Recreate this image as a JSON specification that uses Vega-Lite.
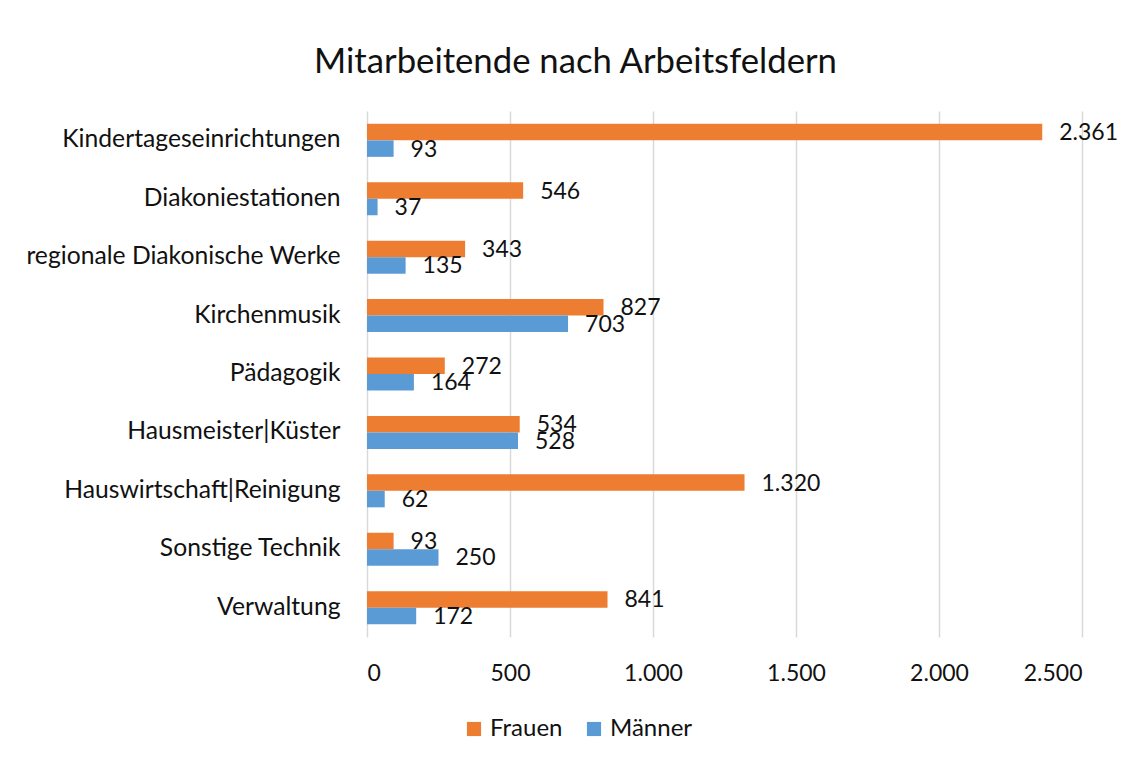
{
  "$schema": "https://vega.github.io/schema/vega-lite/v6.json",
  "width": 715,
  "height": 526,
  "autosize": {"type": "none"},
  "padding": {"left": 367, "top": 111, "right": 53, "bottom": 121},
  "background": "white",
  "title": {
    "text": "Mitarbeitende nach Arbeitsfeldern",
    "fontSize": 34.7,
    "font": "Lato",
    "fontWeight": "normal",
    "color": "#111111",
    "anchor": "middle",
    "frame": "group",
    "dx": -149,
    "baseline": "alphabetic",
    "offset": 3
  },
  "data": {
    "values": [
      {"Arbeitsfeld": "Kindertageseinrichtungen", "Geschlecht": "Frauen", "Anzahl": 2361},
      {"Arbeitsfeld": "Kindertageseinrichtungen", "Geschlecht": "Männer", "Anzahl": 93},
      {"Arbeitsfeld": "Diakoniestationen", "Geschlecht": "Frauen", "Anzahl": 546},
      {"Arbeitsfeld": "Diakoniestationen", "Geschlecht": "Männer", "Anzahl": 37},
      {"Arbeitsfeld": "regionale Diakonische Werke", "Geschlecht": "Frauen", "Anzahl": 343},
      {"Arbeitsfeld": "regionale Diakonische Werke", "Geschlecht": "Männer", "Anzahl": 135},
      {"Arbeitsfeld": "Kirchenmusik", "Geschlecht": "Frauen", "Anzahl": 827},
      {"Arbeitsfeld": "Kirchenmusik", "Geschlecht": "Männer", "Anzahl": 703},
      {"Arbeitsfeld": "Pädagogik", "Geschlecht": "Frauen", "Anzahl": 272},
      {"Arbeitsfeld": "Pädagogik", "Geschlecht": "Männer", "Anzahl": 164},
      {"Arbeitsfeld": "Hausmeister|Küster", "Geschlecht": "Frauen", "Anzahl": 534},
      {"Arbeitsfeld": "Hausmeister|Küster", "Geschlecht": "Männer", "Anzahl": 528},
      {"Arbeitsfeld": "Hauswirtschaft|Reinigung", "Geschlecht": "Frauen", "Anzahl": 1320},
      {"Arbeitsfeld": "Hauswirtschaft|Reinigung", "Geschlecht": "Männer", "Anzahl": 62},
      {"Arbeitsfeld": "Sonstige Technik", "Geschlecht": "Frauen", "Anzahl": 93},
      {"Arbeitsfeld": "Sonstige Technik", "Geschlecht": "Männer", "Anzahl": 250},
      {"Arbeitsfeld": "Verwaltung", "Geschlecht": "Frauen", "Anzahl": 841},
      {"Arbeitsfeld": "Verwaltung", "Geschlecht": "Männer", "Anzahl": 172}
    ]
  },
  "encoding": {
    "y": {
      "field": "Arbeitsfeld",
      "type": "nominal",
      "sort": null,
      "scale": {"paddingInner": 0.435, "paddingOuter": 0.22},
      "axis": {
        "title": null,
        "ticks": false,
        "domain": false,
        "labelPadding": 27,
        "labelFontSize": 24.7,
        "labelFont": "Lato",
        "labelColor": "#111111",
        "labelLimit": 400
      }
    },
    "yOffset": {
      "field": "Geschlecht",
      "type": "nominal",
      "scale": {"domain": ["Frauen", "Männer"], "paddingInner": 0, "paddingOuter": 0}
    },
    "x": {
      "field": "Anzahl",
      "type": "quantitative",
      "scale": {"domain": [0, 2500], "nice": false},
      "axis": {
        "title": null,
        "values": [0, 500, 1000, 1500, 2000, 2500],
        "format": ",.0f",
        "ticks": false,
        "domain": false,
        "grid": true,
        "gridColor": "#d9d9d9",
        "gridWidth": 1.5,
        "labelPadding": 25,
        "labelFontSize": 23,
        "labelFont": "Lato",
        "labelColor": "#111111"
      }
    }
  },
  "layer": [
    {
      "mark": {"type": "bar"},
      "encoding": {
        "color": {
          "field": "Geschlecht",
          "type": "nominal",
          "scale": {"domain": ["Frauen", "Männer"], "range": ["#ED7D31", "#5B9BD5"]},
          "legend": {
            "title": null,
            "orient": "none",
            "direction": "horizontal",
            "legendX": 95,
            "legendY": 606,
            "symbolType": "square",
            "symbolSize": 200,
            "symbolStrokeWidth": 0,
            "symbolOpacity": 1,
            "labelFontSize": 24,
            "labelFont": "Lato",
            "labelColor": "#111111",
            "labelOffset": 4,
            "columnPadding": 19
          }
        }
      }
    },
    {
      "mark": {"type": "text", "align": "left", "baseline": "middle", "dx": 17, "dy": 1, "fontSize": 23, "font": "Lato", "color": "#111111"},
      "encoding": {
        "text": {"field": "Anzahl", "type": "quantitative", "format": ",.0f"}
      }
    }
  ],
  "config": {
    "view": {"stroke": null},
    "locale": {
      "number": {"decimal": ",", "thousands": ".", "grouping": [3], "currency": ["", " €"]}
    }
  }
}
